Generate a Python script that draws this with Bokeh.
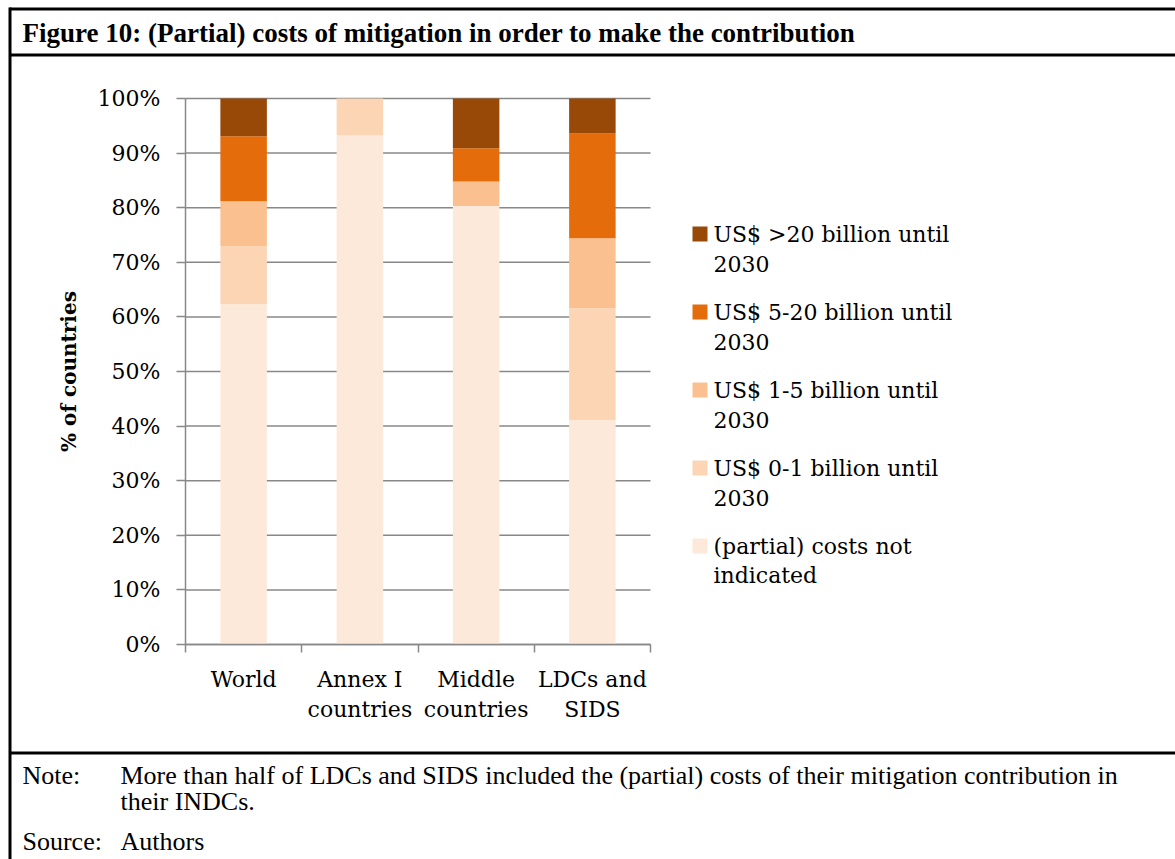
from bokeh.plotting import figure
from bokeh.models import ColumnDataSource, Range1d, FixedTicker, PrintfTickFormatter
from bokeh.core.properties import value
from bokeh.embed import file_html
from bokeh.resources import INLINE

# Share of countries (%) by indicated mitigation cost, per country group
categories = ["World", "Annex I\ncountries", "Middle\ncountries", "LDCs and\nSIDS"]
not_indicated = [62.3, 93.3, 80.3, 41.1]
usd_0_1 = [10.7, 6.7, 0.0, 20.5]
usd_1_5 = [8.2, 0.0, 4.5, 12.8]
usd_5_20 = [11.9, 0.0, 6.1, 19.2]
usd_over_20 = [6.9, 0.0, 9.1, 6.4]

series_keys = ["not_indicated", "usd_0_1", "usd_1_5", "usd_5_20", "usd_over_20"]
series_colors = ["#FDE9D9", "#FCD5B5", "#FAC090", "#E46C0A", "#984807"]
legend_lines = [
    ["(partial) costs not", "indicated"],
    ["US$ 0-1 billion until", "2030"],
    ["US$ 1-5 billion until", "2030"],
    ["US$ 5-20 billion until", "2030"],
    ["US$ >20 billion until", "2030"],
]
y_ticks = list(range(0, 101, 10))

title_text = "Figure 10:  (Partial) costs of mitigation in order to make the contribution"
note_lines = ["More than half of LDCs and SIDS included the (partial) costs of their mitigation contribution in",
              "their INDCs."]
source_text = "Authors"

# page geometry (pixels)
W, H = 1175, 859
CH_L, CH_R, CH_T, CH_B = 185, 650, 98, 644   # plotting area of the bar chart
SERIF = "DejaVu Serif"
TIMES = "Liberation Serif"
GRID = "#888888"

n = len(categories)
x_unit = (CH_R - CH_L) / n
y_unit = (CH_B - CH_T) / 100.0

positions = [i + 0.5 for i in range(n)]
source = ColumnDataSource(dict(
    x=positions,
    not_indicated=not_indicated,
    usd_0_1=usd_0_1,
    usd_1_5=usd_1_5,
    usd_5_20=usd_5_20,
    usd_over_20=usd_over_20,
))

# the frame spans the whole page; the chart's own ranges are set so that
# 0..n and 0..100 land on the plotting area, and a pixel range carries the page furniture
p = figure(width=W, height=H, output_backend="svg", toolbar_location=None,
           x_range=Range1d(-CH_L / x_unit, n + (W - CH_R) / x_unit),
           y_range=Range1d(-(H - CH_B) / y_unit, 100 + CH_T / y_unit),
           min_border=0)
p.extra_x_ranges = {"px": Range1d(0, W)}
p.extra_y_ranges = {"px": Range1d(H, 0)}
p.background_fill_color = "white"
p.border_fill_color = "white"
p.outline_line_color = None
p.xgrid.visible = False
p.ygrid.visible = False

# horizontal gridlines across the category span
p.segment(x0=[0] * len(y_ticks), x1=[n] * len(y_ticks), y0=y_ticks, y1=y_ticks,
          line_color=GRID, line_width=1.5)

p.vbar_stack(series_keys, x="x", width=0.4, color=series_colors, source=source,
             line_color=None)

# y axis
yax = p.yaxis[0]
yax.fixed_location = 0
yax.bounds = (0, 100)
yax.ticker = FixedTicker(ticks=y_ticks)
yax.formatter = PrintfTickFormatter(format="%d%%")
yax.axis_line_color = GRID
yax.axis_line_width = 1.5
yax.major_tick_line_color = GRID
yax.major_tick_line_width = 1.5
yax.major_tick_out = 9
yax.major_tick_in = 0
yax.minor_tick_line_color = None
yax.major_label_text_font = SERIF
yax.major_label_text_font_size = "22px"
yax.major_label_text_color = "black"
yax.major_label_standoff = 16
yax.axis_label = "% of countries"
yax.axis_label_text_font = SERIF
yax.axis_label_text_font_size = "20px"
yax.axis_label_text_font_style = "bold"
yax.axis_label_text_color = "black"
yax.axis_label_standoff = 14

# x axis: category names centred under bars, tick marks at category boundaries
xax = p.xaxis[0]
xax.fixed_location = 0
xax.bounds = (0, n)
xax.ticker = FixedTicker(ticks=positions, minor_ticks=list(range(n + 1)))
xax.major_label_overrides = {pos: name for pos, name in zip(positions, categories)}
xax.axis_line_color = GRID
xax.axis_line_width = 1.5
xax.major_tick_line_color = None
xax.minor_tick_line_color = GRID
xax.minor_tick_line_width = 1.5
xax.minor_tick_out = 8
xax.minor_tick_in = 0
xax.major_label_text_font = SERIF
xax.major_label_text_font_size = "22px"
xax.major_label_text_color = "black"
xax.major_label_standoff = 14

PX = dict(x_range_name="px", y_range_name="px")

# table frame around the figure: top, under the caption, under the chart, left edge
rules = dict(left=[9, 9, 9, 8], right=[W, W, W, 11],
             top=[7, 53, 751, 7], bottom=[10, 56, 754, H])
p.quad(source=ColumnDataSource(rules), left="left", right="right", top="top", bottom="bottom",
       fill_color="black", line_color=None, **PX)

# caption, note and source
p.text(x=[22], y=[32], text=[title_text], text_font=value(TIMES), text_font_size="27px",
       text_font_style="bold", text_baseline="middle", text_color="black", **PX)
p.text(x=[22, 120, 120, 22, 120], y=[775, 775, 801, 841, 841],
       text=["Note:", note_lines[0], note_lines[1], "Source:", source_text],
       text_font=value(TIMES), text_font_size="26px", text_baseline="middle",
       text_color="black", **PX)

# legend, top entry = top of the stack
order = list(reversed(range(len(series_keys))))
tops = [226 + 78 * r for r in range(len(order))]
p.quad(left=[692] * len(order), right=[707] * len(order), top=tops,
       bottom=[t + 15 for t in tops], fill_color=[series_colors[i] for i in order],
       line_color=None, **PX)
p.text(x=[713] * (2 * len(order)),
       y=[t + 8 for t in tops] + [t + 37 for t in tops],
       text=[legend_lines[i][0] for i in order] + [legend_lines[i][1] for i in order],
       text_font=value(SERIF), text_font_size="22px", text_baseline="middle",
       text_color="black", **PX)

open("out.html", "w").write(file_html(p, INLINE))
